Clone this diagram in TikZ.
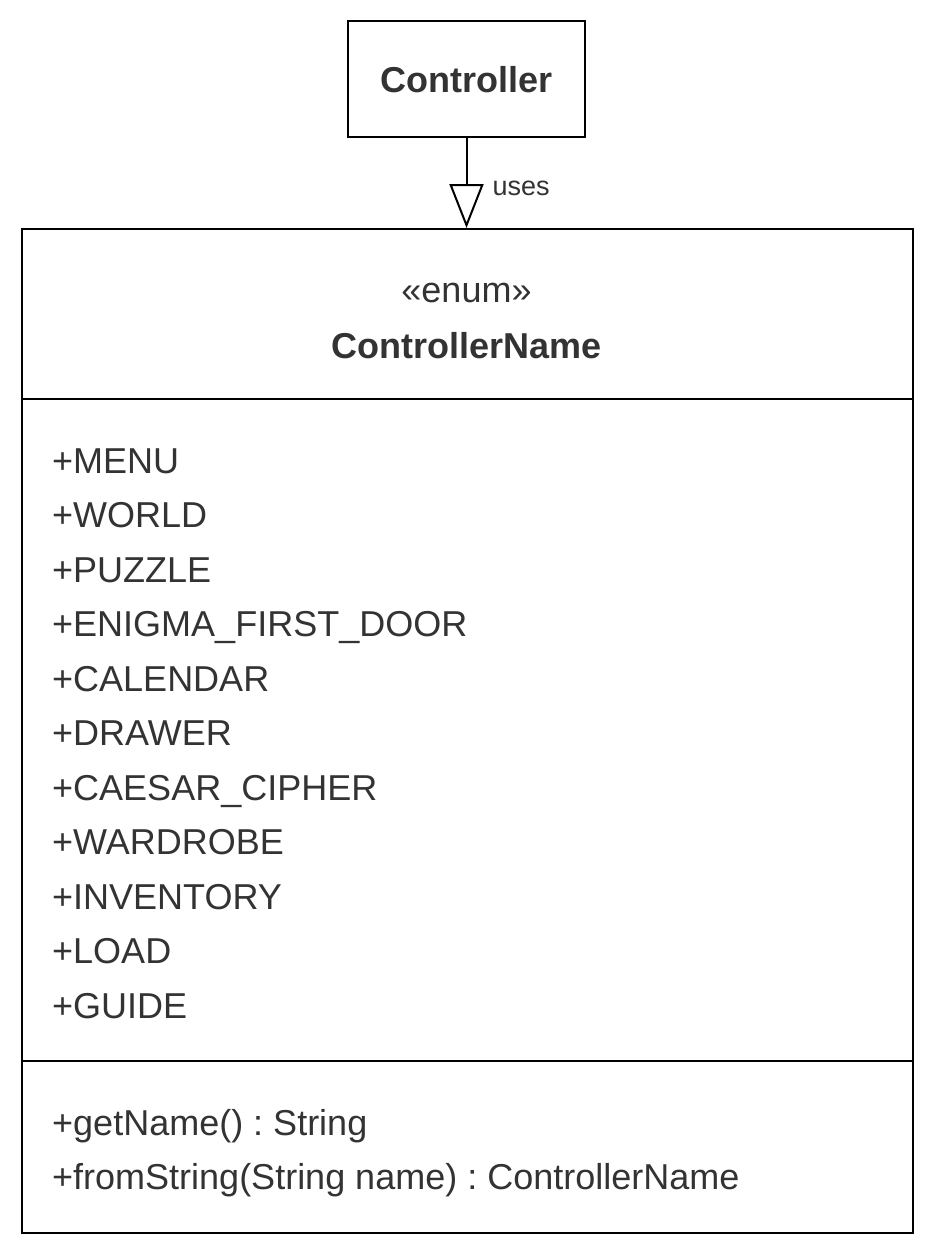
\documentclass[tikz,border=0pt]{standalone}
\usepackage{fontspec}
\setmainfont{Liberation Sans}
\usepackage{xcolor}
\usepackage{tikz}
\usetikzlibrary{positioning,arrows.meta}
\definecolor{umltext}{HTML}{333333}
\frenchspacing

\begin{document}
\begin{tikzpicture}[
    x=1pt, y=-1pt,
    node distance=54.5pt,
    classbox/.style={rectangle, draw, line width=2pt, inner sep=0pt},
    attr/.style={anchor=base west, inner sep=0pt, text=umltext, font=\fontsize{36}{36}\selectfont},
    title/.style={anchor=base, inner sep=0pt, text=umltext, font=\fontsize{36}{36}\selectfont},
    realize/.style={-{Triangle[width=34pt, length=44pt, fill=white]}, line width=2pt}
]
\useasboundingbox (0,0) rectangle (936,1258);

% Classes
\node[classbox, minimum width=237pt, minimum height=116pt] (ctrl) at (466.5,79) {};
\node[title, font=\fontsize{36}{36}\selectfont\bfseries] (ctrltitle) at (466.5,92) {Controller};
\node[classbox, anchor=north west, minimum width=891pt, minimum height=1004pt] (enumbox) at (21,228) {};

% Compartiments
\draw[line width=2pt] (enumbox.west |- 0,399) -- (enumbox.east |- 0,399);
\draw[line width=2pt] (enumbox.west |- 0,1061) -- (enumbox.east |- 0,1061);

% Titre
\node[title, font=\fontsize{36}{36}\selectfont\bfseries] (enumname) at (466.5,358) {ControllerName};
\node[title, above=56pt of enumname.base, anchor=base] (stereo) {«enum»};

% Valeurs
\node[attr] (menu) at (52,473) {+MENU};
\node[attr, below=of menu.base west, anchor=base west] (world) {+WORLD};
\node[attr, below=of world.base west, anchor=base west] (puzzle) {+PUZZLE};
\node[attr, below=of puzzle.base west, anchor=base west] (enigma) {+ENIGMA\_FIRST\_DOOR};
\node[attr, below=of enigma.base west, anchor=base west] (calendar) {+CALENDAR};
\node[attr, below=of calendar.base west, anchor=base west] (drawer) {+DRAWER};
\node[attr, below=of drawer.base west, anchor=base west] (caesar) {+CAESAR\_CIPHER};
\node[attr, below=of caesar.base west, anchor=base west] (wardrobe) {+WARDROBE};
\node[attr, below=of wardrobe.base west, anchor=base west] (inventory) {+INVENTORY};
\node[attr, below=of inventory.base west, anchor=base west] (load) {+LOAD};
\node[attr, below=of load.base west, anchor=base west] (guide) {+GUIDE};

% Methodes
\node[attr] (getname) at (52,1135) {+getName() : String};
\node[attr, below=of getname.base west, anchor=base west] (fromstring) {+fromString(String name) : ControllerName};

% Relation
\draw[realize] (ctrl.south) -- node[pos=0.56, right=25pt, inner sep=0pt, text=umltext, font=\fontsize{27}{27}\selectfont] {uses} (enumbox.north -| ctrl.south);

\end{tikzpicture}
\end{document}
